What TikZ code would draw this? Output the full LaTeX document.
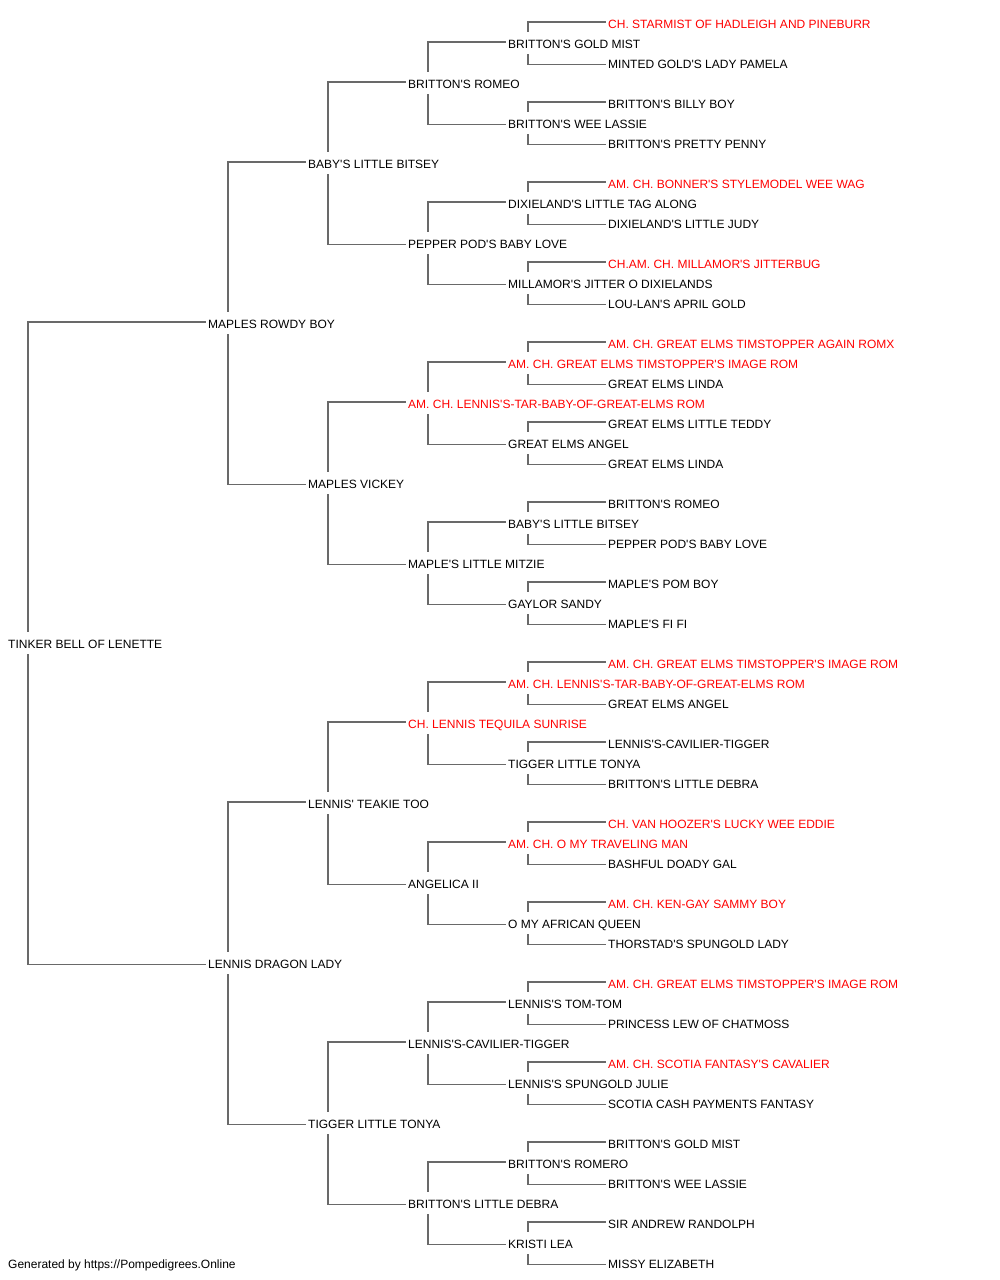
\documentclass[tikz,border=0pt]{standalone}
\usepackage{fontspec}
\setmainfont{Liberation Sans}[Ligatures=TeXOff]
\definecolor{linegray}{RGB}{105,105,105}
\definecolor{champ}{RGB}{255,0,0}
\begin{document}
\begin{tikzpicture}[x=1pt,y=-1pt,
  font=\fontsize{12pt}{14pt}\selectfont,
  p/.style={anchor=west,inner xsep=2pt,inner ysep=0pt,text height=16pt,text depth=6pt},
  ch/.style={p,text=champ},
  conn/.style={draw=linegray,line width=1.3pt}]
\useasboundingbox (0,0) rectangle (1000,1280);
% row centre y = 23 + 20*row
\node[ch] (n0)  at (606,23)   {CH. STARMIST OF HADLEIGH AND PINEBURR};
\node[p]  (n1)  at (506,43)   {BRITTON'S GOLD MIST};
\node[p]  (n2)  at (606,63)   {MINTED GOLD'S LADY PAMELA};
\node[p]  (n3)  at (406,83)   {BRITTON'S ROMEO};
\node[p]  (n4)  at (606,103)  {BRITTON'S BILLY BOY};
\node[p]  (n5)  at (506,123)  {BRITTON'S WEE LASSIE};
\node[p]  (n6)  at (606,143)  {BRITTON'S PRETTY PENNY};
\node[p]  (n7)  at (306,163)  {BABY'S LITTLE BITSEY};
\node[ch] (n8)  at (606,183)  {AM. CH. BONNER'S STYLEMODEL WEE WAG};
\node[p]  (n9)  at (506,203)  {DIXIELAND'S LITTLE TAG ALONG};
\node[p]  (n10) at (606,223)  {DIXIELAND'S LITTLE JUDY};
\node[p]  (n11) at (406,243)  {PEPPER POD'S BABY LOVE};
\node[ch] (n12) at (606,263)  {CH.AM. CH. MILLAMOR'S JITTERBUG};
\node[p]  (n13) at (506,283)  {MILLAMOR'S JITTER O DIXIELANDS};
\node[p]  (n14) at (606,303)  {LOU-LAN'S APRIL GOLD};
\node[p]  (n15) at (206,323)  {MAPLES ROWDY BOY};
\node[ch] (n16) at (606,343)  {AM. CH. GREAT ELMS TIMSTOPPER AGAIN ROMX};
\node[ch] (n17) at (506,363)  {AM. CH. GREAT ELMS TIMSTOPPER'S IMAGE ROM};
\node[p]  (n18) at (606,383)  {GREAT ELMS LINDA};
\node[ch] (n19) at (406,403)  {AM. CH. LENNIS'S-TAR-BABY-OF-GREAT-ELMS ROM};
\node[p]  (n20) at (606,423)  {GREAT ELMS LITTLE TEDDY};
\node[p]  (n21) at (506,443)  {GREAT ELMS ANGEL};
\node[p]  (n22) at (606,463)  {GREAT ELMS LINDA};
\node[p]  (n23) at (306,483)  {MAPLES VICKEY};
\node[p]  (n24) at (606,503)  {BRITTON'S ROMEO};
\node[p]  (n25) at (506,523)  {BABY'S LITTLE BITSEY};
\node[p]  (n26) at (606,543)  {PEPPER POD'S BABY LOVE};
\node[p]  (n27) at (406,563)  {MAPLE'S LITTLE MITZIE};
\node[p]  (n28) at (606,583)  {MAPLE'S POM BOY};
\node[p]  (n29) at (506,603)  {GAYLOR SANDY};
\node[p]  (n30) at (606,623)  {MAPLE'S FI FI};
\node[p]  (n31) at (6,643)    {TINKER BELL OF LENETTE};
\node[ch] (n32) at (606,663)  {AM. CH. GREAT ELMS TIMSTOPPER'S IMAGE ROM};
\node[ch] (n33) at (506,683)  {AM. CH. LENNIS'S-TAR-BABY-OF-GREAT-ELMS ROM};
\node[p]  (n34) at (606,703)  {GREAT ELMS ANGEL};
\node[ch] (n35) at (406,723)  {CH. LENNIS TEQUILA SUNRISE};
\node[p]  (n36) at (606,743)  {LENNIS'S-CAVILIER-TIGGER};
\node[p]  (n37) at (506,763)  {TIGGER LITTLE TONYA};
\node[p]  (n38) at (606,783)  {BRITTON'S LITTLE DEBRA};
\node[p]  (n39) at (306,803)  {LENNIS' TEAKIE TOO};
\node[ch] (n40) at (606,823)  {CH. VAN HOOZER'S LUCKY WEE EDDIE};
\node[ch] (n41) at (506,843)  {AM. CH. O MY TRAVELING MAN};
\node[p]  (n42) at (606,863)  {BASHFUL DOADY GAL};
\node[p]  (n43) at (406,883)  {ANGELICA II};
\node[ch] (n44) at (606,903)  {AM. CH. KEN-GAY SAMMY BOY};
\node[p]  (n45) at (506,923)  {O MY AFRICAN QUEEN};
\node[p]  (n46) at (606,943)  {THORSTAD'S SPUNGOLD LADY};
\node[p]  (n47) at (206,963)  {LENNIS DRAGON LADY};
\node[ch] (n48) at (606,983)  {AM. CH. GREAT ELMS TIMSTOPPER'S IMAGE ROM};
\node[p]  (n49) at (506,1003) {LENNIS'S TOM-TOM};
\node[p]  (n50) at (606,1023) {PRINCESS LEW OF CHATMOSS};
\node[p]  (n51) at (406,1043) {LENNIS'S-CAVILIER-TIGGER};
\node[ch] (n52) at (606,1063) {AM. CH. SCOTIA FANTASY'S CAVALIER};
\node[p]  (n53) at (506,1083) {LENNIS'S SPUNGOLD JULIE};
\node[p]  (n54) at (606,1103) {SCOTIA CASH PAYMENTS FANTASY};
\node[p]  (n55) at (306,1123) {TIGGER LITTLE TONYA};
\node[p]  (n56) at (606,1143) {BRITTON'S GOLD MIST};
\node[p]  (n57) at (506,1163) {BRITTON'S ROMERO};
\node[p]  (n58) at (606,1183) {BRITTON'S WEE LASSIE};
\node[p]  (n59) at (406,1203) {BRITTON'S LITTLE DEBRA};
\node[p]  (n60) at (606,1223) {SIR ANDREW RANDOLPH};
\node[p]  (n61) at (506,1243) {KRISTI LEA};
\node[p]  (n62) at (606,1263) {MISSY ELIZABETH};
\node[p]  (footer) at (6,1263) {Generated by https://Pompedigrees.Online};
% connectors: parent row r, children at r-o and r+o
\foreach \r/\o in {1/1,5/1,9/1,13/1,17/1,21/1,25/1,29/1,33/1,37/1,41/1,45/1,49/1,53/1,57/1,61/1,
                   3/2,11/2,19/2,27/2,35/2,43/2,51/2,59/2,
                   7/4,23/4,39/4,55/4,
                   15/8,47/8,
                   31/16}{
  \pgfmathtruncatemacro\ra{\r-\o}
  \pgfmathtruncatemacro\rb{\r+\o}
  \draw[conn] ([xshift=22pt]n\r.north west) |- ([yshift=1pt]n\ra.west);
  \draw[conn] ([xshift=22pt]n\r.south west) |- ([yshift=-1.5pt]n\rb.west);
}
\end{tikzpicture}
\end{document}
